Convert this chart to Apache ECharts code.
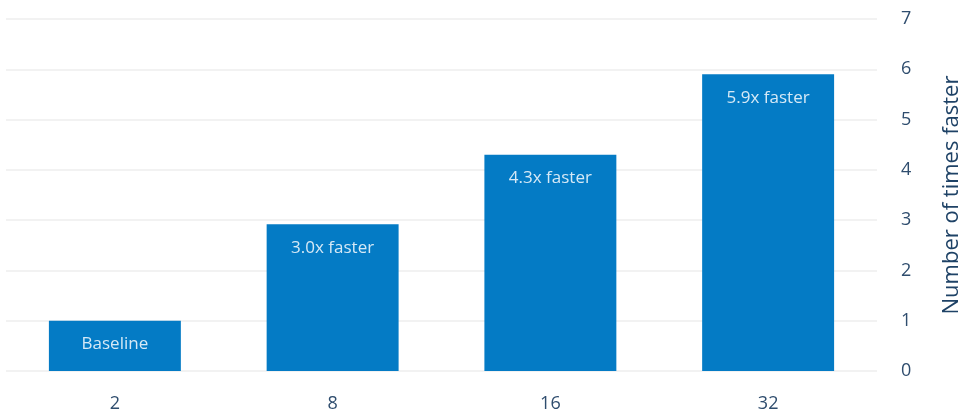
<!DOCTYPE html>
<html><head><meta charset="utf-8">
<script src="https://cdn.jsdelivr.net/npm/echarts@6/dist/echarts.min.js"></script>
<style>html,body{margin:0;padding:0;background:#fff}#c{width:960px;height:415px}</style>
</head><body><div id="c"></div>
<script>
const categories = ['2', '8', '16', '32'];
const values = [1.0, 2.92, 4.3, 5.9];
const barLabels = ['Baseline', '3.0x faster', '4.3x faster', '5.9x faster'];
const yTicks = [0, 1, 2, 3, 4, 5, 6, 7];
const yName = 'Number of times faster';

const chart = echarts.init(document.getElementById('c'), null, {renderer: 'canvas'});
chart.setOption({
  animation: false,
  textStyle: {fontFamily: 'Open Sans'},
  grid: {left: 6, right: 83, top: 19, bottom: 44, outerBoundsMode: 'none', containLabel: false},
  xAxis: {
    type: 'category', data: categories,
    axisLine: {show: false}, axisTick: {show: false},
    axisLabel: {color: '#2f4d6e', fontSize: 18, margin: 24, fontFamily: 'Open Sans'}
  },
  yAxis: {
    type: 'value', position: 'right', min: yTicks[0], max: yTicks[yTicks.length - 1], interval: 1,
    axisLine: {show: false}, axisTick: {show: false},
    axisLabel: {color: '#2f4d6e', fontSize: 18, margin: 24, fontFamily: 'Open Sans'},
    splitLine: {lineStyle: {color: '#eeeeee', width: 1.5}},
    name: yName, nameLocation: 'middle', nameRotate: 90, nameGap: 64,
    nameTextStyle: {color: '#1e4266', fontSize: 22, fontFamily: 'Open Sans'}
  },
  series: [{
    type: 'bar', data: values, barWidth: '60.6%',
    itemStyle: {color: '#047bc5'},
    label: {
      show: true, position: 'insideTop', distance: 15,
      color: '#d6e9f6', fontSize: 17, fontFamily: 'Open Sans',
      formatter: p => barLabels[p.dataIndex]
    }
  }]
});
</script></body></html>
